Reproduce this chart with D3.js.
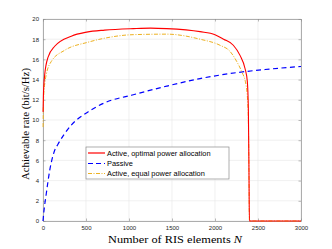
<!DOCTYPE html>
<html>
<head>
<meta charset="utf-8">
<script src="https://cdn.jsdelivr.net/npm/d3@7"></script>
<style>
  body { margin: 0; background: #fff; }
  svg { display: block; }
</style>
</head>
<body>
<svg id="chart" width="332" height="249"></svg>
<script>
// values
var activeOptN = [1, 5, 10, 20, 58, 136, 329, 508, 717, 1050, 1250, 1438, 1826, 2000, 2100, 2213, 2291, 2349, 2376, 2388, 2395, 2400, 3000];
var activeOptR = [10.8, 12.5, 13.5, 14.5, 16.2, 17.3, 18.3, 18.7, 18.9, 19.05, 19.1, 19.05, 18.75, 18.45, 18.0, 17.4, 16.4, 15.1, 13.8, 11, 5, 0, 0];
var passiveN = [0, 10, 38, 78, 136, 174, 329, 523, 717, 1050, 1438, 1826, 2174, 2581, 3000];
var passiveR = [0, 0.9, 2.7, 5.0, 7.0, 7.6, 9.5, 10.8, 11.7, 12.5, 13.35, 14.1, 14.6, 15.0, 15.3];
var activeEqN = [1, 5, 10, 20, 38, 97, 252, 523, 717, 1050, 1438, 1826, 2058, 2174, 2252, 2310, 2360, 2385, 2395, 2400, 3000];
var activeEqR = [9.3, 11.5, 12.7, 13.6, 14.5, 15.8, 16.9, 17.7, 18.1, 18.45, 18.5, 18.0, 17.4, 16.8, 15.8, 14.8, 13.5, 11, 5, 0, 0];

var xTicks = [0, 500, 1000, 1500, 2000, 2500, 3000];
var yTicks = [0, 2, 4, 6, 8, 10, 12, 14, 16, 18, 20];
var legendLabels = ["Active, optimal power allocation", "Passive", "Active, equal power allocation"];

var svg = d3.select("#chart");
var plotL = 43, plotR = 301, plotT = 19, plotB = 221;

var x = d3.scaleLinear().domain([0, 3000]).range([plotL, plotR]);
var y = d3.scaleLinear().domain([0, 20]).range([plotB, plotT]);

// grid
svg.append("g").selectAll("line").data(xTicks).enter().append("line")
    .attr("x1", function(d) { return x(d); }).attr("x2", function(d) { return x(d); })
    .attr("y1", plotT).attr("y2", plotB)
    .attr("stroke", "#e6e6e6").attr("stroke-width", 0.6);
svg.append("g").selectAll("line").data(yTicks).enter().append("line")
    .attr("x1", plotL).attr("x2", plotR)
    .attr("y1", function(d) { return y(d); }).attr("y2", function(d) { return y(d); })
    .attr("stroke", "#e6e6e6").attr("stroke-width", 0.6);

// axes
var fontTick = "Liberation Sans, Arial, sans-serif";
var fmt = d3.format("d");
var xAxis = svg.append("g").attr("transform", "translate(0," + plotB + ")")
    .call(d3.axisBottom(x).tickValues(xTicks).tickFormat(fmt).tickSizeInner(-2.5).tickSizeOuter(0).tickPadding(5));
var yAxis = svg.append("g").attr("transform", "translate(" + plotL + ",0)")
    .call(d3.axisLeft(y).tickValues(yTicks).tickFormat(fmt).tickSizeInner(-2.5).tickSizeOuter(0).tickPadding(4));
var xTop = svg.append("g").attr("transform", "translate(0," + plotT + ")")
    .call(d3.axisTop(x).tickValues(xTicks).tickSizeInner(-2.5).tickSizeOuter(0).tickFormat(""));
var yRight = svg.append("g").attr("transform", "translate(" + plotR + ",0)")
    .call(d3.axisRight(y).tickValues(yTicks).tickSizeInner(-2.5).tickSizeOuter(0).tickFormat(""));

[xAxis, yAxis, xTop, yRight].forEach(function(g) {
    g.select(".domain").attr("stroke", "#8c8c8c").attr("stroke-width", 0.7);
    g.selectAll(".tick line").attr("stroke", "#8c8c8c").attr("stroke-width", 0.6);
    g.selectAll("text").attr("fill", "#262626").style("font-family", fontTick).style("font-size", "6px");
});

// curves
var line = d3.line().x(function(d) { return x(d[0]); }).y(function(d) { return y(d[1]); }).curve(d3.curveMonotoneX);
function pairs(a, b) { return a.map(function(v, i) { return [v, b[i]]; }); }

svg.append("path").datum(pairs(passiveN, passiveR)).attr("d", line)
    .attr("fill", "none").attr("stroke", "#0000ff").attr("stroke-width", 1.2)
    .attr("stroke-dasharray", "5,3.5");
svg.append("path").datum(pairs(activeEqN, activeEqR)).attr("d", line)
    .attr("fill", "none").attr("stroke", "#edb120").attr("stroke-width", 1.0)
    .attr("stroke-dasharray", "4,1.5,1,1.5");
svg.append("path").datum(pairs(activeOptN, activeOptR)).attr("d", line)
    .attr("fill", "none").attr("stroke", "#ff0000").attr("stroke-width", 1.1);

// legend
var legend = svg.append("g");
legend.append("rect").attr("x", 86).attr("y", 147).attr("width", 143).attr("height", 32)
    .attr("fill", "#fff").attr("stroke", "#8c8c8c").attr("stroke-width", 0.7);
var legColors = ["#ff0000", "#0000ff", "#edb120"];
var legDash = ["none", "5,3", "4,1.5,1,1.5"];
var legRows = [153, 163.5, 173.5];
legendLabels.forEach(function(lbl, i) {
    legend.append("line").attr("x1", 88).attr("x2", 105)
        .attr("y1", legRows[i]).attr("y2", legRows[i])
        .attr("stroke", legColors[i]).attr("stroke-width", 1.2)
        .attr("stroke-dasharray", legDash[i]);
    legend.append("text").attr("x", 107).attr("y", legRows[i] + 2.7)
        .attr("fill", "#000").style("font-family", fontTick).style("font-size", "7.4px")
        .text(lbl);
});

// axis labels
var fontLabel = "Liberation Serif, Times New Roman, serif";
svg.append("text").attr("x", 175).attr("y", 243).attr("text-anchor", "middle")
    .attr("textLength", 134).attr("lengthAdjust", "spacingAndGlyphs")
    .style("font-family", fontLabel).style("font-size", "10.5px")
    .attr("fill", "#000")
    .html("Number of RIS elements <tspan font-style='italic'>N</tspan>");
svg.append("text").attr("transform", "translate(29,124) rotate(-90)").attr("text-anchor", "middle")
    .attr("textLength", 112).attr("lengthAdjust", "spacingAndGlyphs")
    .style("font-family", fontLabel).style("font-size", "10.5px")
    .attr("fill", "#000")
    .text("Achievable rate (bit/s/Hz)");
</script>
</body>
</html>
